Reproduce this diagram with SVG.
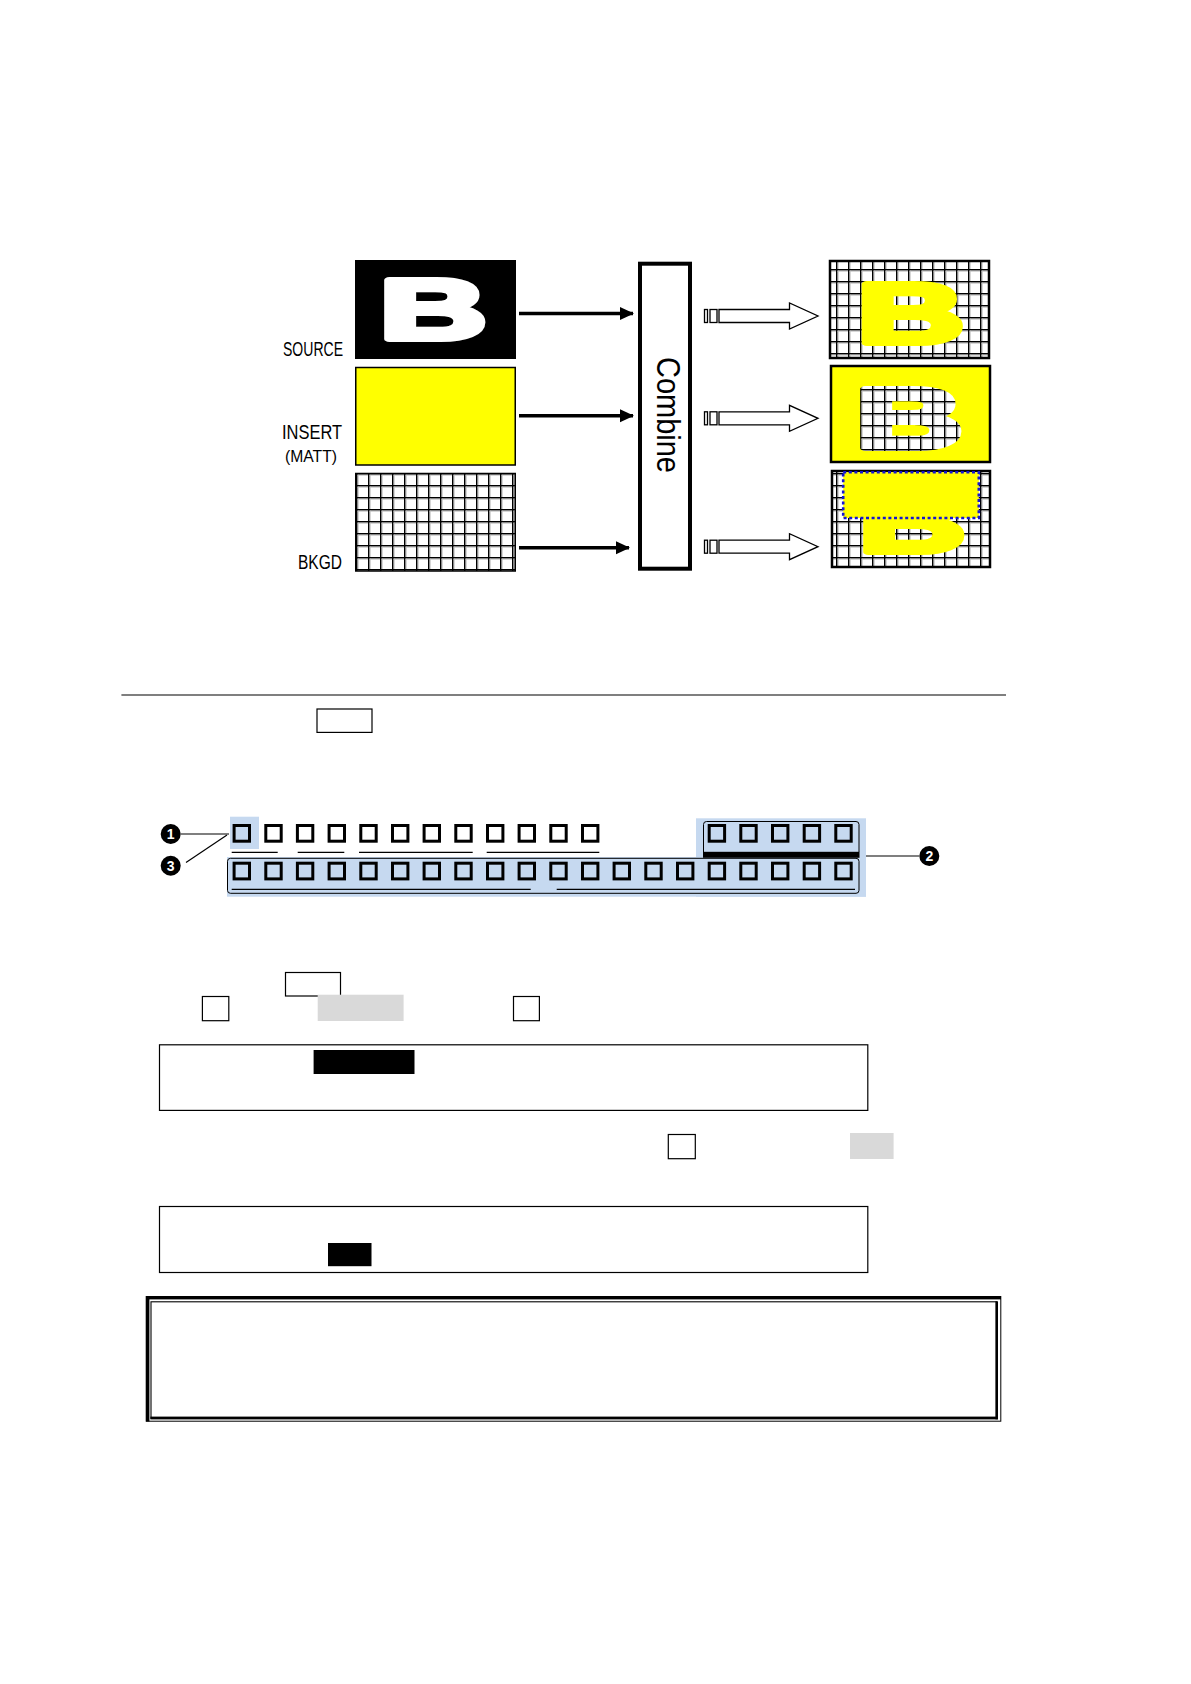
<svg xmlns="http://www.w3.org/2000/svg" width="1191" height="1684" viewBox="0 0 1191 1684">
<style>
.lbl{font-family:"Liberation Sans",Arial,sans-serif;font-size:20px;fill:#000}
.thin{fill:#fff;stroke:#000;stroke-width:1.2}
.gray{fill:#d9d9d9}
.blk{fill:#000}
.ln{stroke:#000;stroke-width:1.2;fill:none}
.blue{fill:#c6d9f0}
.bigB{font-family:"Liberation Sans",Arial,sans-serif;font-weight:bold;font-size:85px;stroke-width:6;stroke-linejoin:round}
.num{font-family:"Liberation Sans",Arial,sans-serif;font-weight:bold;font-size:14px;fill:#fff;text-anchor:middle}
</style>
<defs>
<pattern id="grid" patternUnits="userSpaceOnUse" x="356" y="473" width="12" height="12">
<rect width="12" height="12" fill="#fff"/>
<rect x="0" y="0" width="1.6" height="12" fill="#000"/>
<rect x="0" y="0" width="12" height="1.6" fill="#000"/>
<rect x="1.6" y="1.6" width="1" height="10.4" fill="#bdbdbd"/>
<rect x="1.6" y="1.6" width="10.4" height="1" fill="#bdbdbd"/>
</pattern>
<marker id="ah" markerUnits="userSpaceOnUse" markerWidth="14" markerHeight="14" refX="13" refY="7" orient="auto">
<path d="M0,0.5 L14,7 L0,13.5 Z" fill="#000"/>
</marker>
<rect id="btn" width="15.4" height="15.7" fill="none" stroke="#000" stroke-width="3"/>
<g id="hollow">
<rect x="704.5" y="-6.5" width="3" height="13" fill="#fff" stroke="#000" stroke-width="1.3"/>
<rect x="710" y="-6.5" width="7" height="13" fill="#fff" stroke="#000" stroke-width="1.3"/>
<path d="M719,-6.5 L789.5,-6.5 L789.5,-13 L818,0 L789.5,13 L789.5,6.5 L719,6.5 Z" fill="#fff" stroke="#000" stroke-width="1.3"/>
</g>
<mask id="bmask2" maskUnits="userSpaceOnUse" x="0" y="0" width="1191" height="1684">
<text class="bigB" transform="translate(855.4,447.7) scale(1.75,1)" fill="#fff" stroke="#fff">B</text>
</mask>
</defs>

<!-- Top diagram: inputs -->
<g id="source">
<rect x="355" y="260" width="161" height="99" fill="#000"/>
<text class="bigB" transform="translate(379.4,338.7) scale(1.75,1)" fill="#fff" stroke="#fff">B</text>
<text class="lbl" x="283" y="356" textLength="60" lengthAdjust="spacingAndGlyphs">SOURCE</text>
</g>
<g id="insert">
<rect x="355.75" y="367.5" width="159.5" height="97.5" fill="#ffff00" stroke="#000" stroke-width="1.5"/>
<text class="lbl" x="282" y="439" textLength="60" lengthAdjust="spacingAndGlyphs">INSERT</text>
<text class="lbl" x="285" y="461.5" style="font-size:16px" textLength="52" lengthAdjust="spacingAndGlyphs">(MATT)</text>
</g>
<g id="bkgd">
<rect x="355.75" y="473.5" width="159.5" height="97.5" fill="url(#grid)" stroke="#000" stroke-width="1.5"/>
<text class="lbl" x="298" y="569" textLength="44" lengthAdjust="spacingAndGlyphs">BKGD</text>
</g>
<g id="combine">
<rect x="640" y="263.7" width="50" height="305" fill="#fff" stroke="#000" stroke-width="4"/>
<text class="lbl" transform="translate(657,357) rotate(90)" style="font-size:33px" textLength="116" lengthAdjust="spacingAndGlyphs">Combine</text>
</g>

<!-- Outputs -->
<g id="out1">
<rect x="830" y="261" width="159" height="97" fill="url(#grid)" stroke="#000" stroke-width="2.5"/>
<text class="bigB" transform="translate(857,342.7) scale(1.75,1)" fill="#ffff00" stroke="#ffff00">B</text>
</g>
<g id="out2">
<rect x="831" y="366" width="159" height="96" fill="#ffff00" stroke="#000" stroke-width="2.5"/>
<rect x="840" y="370" width="140" height="90" fill="url(#grid)" mask="url(#bmask2)"/>
</g>
<g id="out3">
<rect x="832" y="471" width="158" height="96" fill="url(#grid)" stroke="#000" stroke-width="2.5"/>
<text class="bigB" transform="translate(858.4,552) scale(1.75,1)" fill="#ffff00" stroke="#ffff00">B</text>
<rect x="843.2" y="472.2" width="135.6" height="45.8" fill="#ffff00" stroke="#1414d2" stroke-width="2.6" stroke-dasharray="3 2.6"/>
</g>

<g id="connectors">
<line x1="519" y1="313.5" x2="633" y2="313.5" stroke="#000" stroke-width="3.5" marker-end="url(#ah)"/>
<line x1="519" y1="415.8" x2="633" y2="415.8" stroke="#000" stroke-width="3.5" marker-end="url(#ah)"/>
<line x1="519" y1="547.7" x2="629" y2="547.7" stroke="#000" stroke-width="3.5" marker-end="url(#ah)"/>
<use href="#hollow" transform="translate(0,316)"/>
<use href="#hollow" transform="translate(0,418.3)"/>
<use href="#hollow" transform="translate(0,546.7)"/>
<line class="ln" x1="181" y1="834" x2="229" y2="834" stroke-width="1.4"/>
<line class="ln" x1="186" y1="862.5" x2="227" y2="835" stroke-width="1.4"/>
<line class="ln" x1="866" y1="856" x2="919" y2="856" stroke-width="1.4"/>
</g>

<!-- Rule -->
<line class="ln" x1="121.4" y1="695" x2="1006" y2="695"/>
<rect class="thin" x="317" y="709" width="55" height="23.4"/>

<!-- Panel -->
<g id="panel">
<rect class="blue" x="230" y="816.7" width="29" height="32.3"/>
<rect class="blue" x="696" y="818.3" width="170" height="78.4"/>
<rect class="blue" x="227" y="857" width="639" height="39.7"/>
<rect x="227.5" y="858.3" width="631.5" height="35" rx="3" fill="none" stroke="#000" stroke-width="1"/>
<path d="M703.5,852 L703.5,824.5 Q703.5,821.5 706.5,821.5 L856,821.5 Q859,821.5 859,824.5 L859,852" fill="none" stroke="#000" stroke-width="1"/>
<rect x="703" y="851.8" width="156.5" height="6" fill="#000"/>
<g class="ln">
<line x1="231.7" y1="852.3" x2="277.7" y2="852.3"/>
<line x1="297.7" y1="852.3" x2="344.3" y2="852.3"/>
<line x1="359" y1="852.3" x2="472.7" y2="852.3"/>
<line x1="486.7" y1="852.3" x2="599.3" y2="852.3"/>
<line x1="231.7" y1="889.3" x2="530.7" y2="889.3"/>
<line x1="556.7" y1="889.3" x2="855" y2="889.3"/>
</g>
<g id="toprow">
<use href="#btn" x="234.1" y="825.5"/><use href="#btn" x="265.8" y="825.5"/><use href="#btn" x="297.4" y="825.5"/><use href="#btn" x="329.1" y="825.5"/>
<use href="#btn" x="360.8" y="825.5"/><use href="#btn" x="392.5" y="825.5"/><use href="#btn" x="424.1" y="825.5"/><use href="#btn" x="455.8" y="825.5"/>
<use href="#btn" x="487.5" y="825.5"/><use href="#btn" x="519.1" y="825.5"/><use href="#btn" x="550.8" y="825.5"/><use href="#btn" x="582.5" y="825.5"/>
<use href="#btn" x="709.2" y="825.5"/><use href="#btn" x="740.8" y="825.5"/><use href="#btn" x="772.5" y="825.5"/><use href="#btn" x="804.2" y="825.5"/><use href="#btn" x="835.8" y="825.5"/>
</g>
<g id="bottomrow">
<use href="#btn" x="234.1" y="863.2"/><use href="#btn" x="265.8" y="863.2"/><use href="#btn" x="297.4" y="863.2"/><use href="#btn" x="329.1" y="863.2"/>
<use href="#btn" x="360.8" y="863.2"/><use href="#btn" x="392.5" y="863.2"/><use href="#btn" x="424.1" y="863.2"/><use href="#btn" x="455.8" y="863.2"/>
<use href="#btn" x="487.5" y="863.2"/><use href="#btn" x="519.1" y="863.2"/><use href="#btn" x="550.8" y="863.2"/><use href="#btn" x="582.5" y="863.2"/>
<use href="#btn" x="614.1" y="863.2"/><use href="#btn" x="645.8" y="863.2"/><use href="#btn" x="677.5" y="863.2"/><use href="#btn" x="709.2" y="863.2"/>
<use href="#btn" x="740.8" y="863.2"/><use href="#btn" x="772.5" y="863.2"/><use href="#btn" x="804.2" y="863.2"/><use href="#btn" x="835.8" y="863.2"/>
</g>
</g>
<g id="callout1"><circle cx="170.7" cy="834" r="10" fill="#000"/><text class="num" x="170.7" y="839">1</text></g>
<g id="callout3"><circle cx="170.7" cy="865.7" r="10" fill="#000"/><text class="num" x="170.7" y="870.7">3</text></g>
<g id="callout2"><circle cx="929.3" cy="856" r="10" fill="#000"/><text class="num" x="929.3" y="861">2</text></g>

<!-- Lower boxes -->
<rect class="thin" x="285.5" y="972.5" width="55" height="23.5"/>
<rect class="thin" x="202.4" y="996.5" width="26.4" height="24.2"/>
<rect class="gray" x="317.7" y="994.7" width="85.9" height="26.3"/>
<rect class="thin" x="513.5" y="996.5" width="25.9" height="24.2"/>
<rect class="thin" x="159.5" y="1044.8" width="708.3" height="65.6" stroke-width="1.3"/>
<rect class="blk" x="313.6" y="1050" width="100.9" height="24"/>
<rect class="thin" x="668.3" y="1134.5" width="27" height="24.2"/>
<rect class="gray" x="850" y="1133" width="43.6" height="26"/>
<rect class="thin" x="159.5" y="1206.5" width="708.3" height="66" stroke-width="1.3"/>
<rect class="blk" x="328" y="1243" width="43.5" height="23.2"/>

<g id="notebox">
<rect x="146.2" y="1296.5" width="854.6" height="124.7" fill="#fff" stroke="#000" stroke-width="1"/>
<rect x="146" y="1296" width="855" height="3.4" fill="#000"/>
<rect x="146" y="1296" width="3.4" height="125.5" fill="#000"/>
<rect x="151" y="1301.8" width="845.5" height="116.5" fill="none" stroke="#000" stroke-width="1.1"/>
<rect x="150.4" y="1416.6" width="847.5" height="2.8" fill="#000"/>
<rect x="995.4" y="1301.3" width="2.6" height="118" fill="#000"/>
</g>
</svg>
